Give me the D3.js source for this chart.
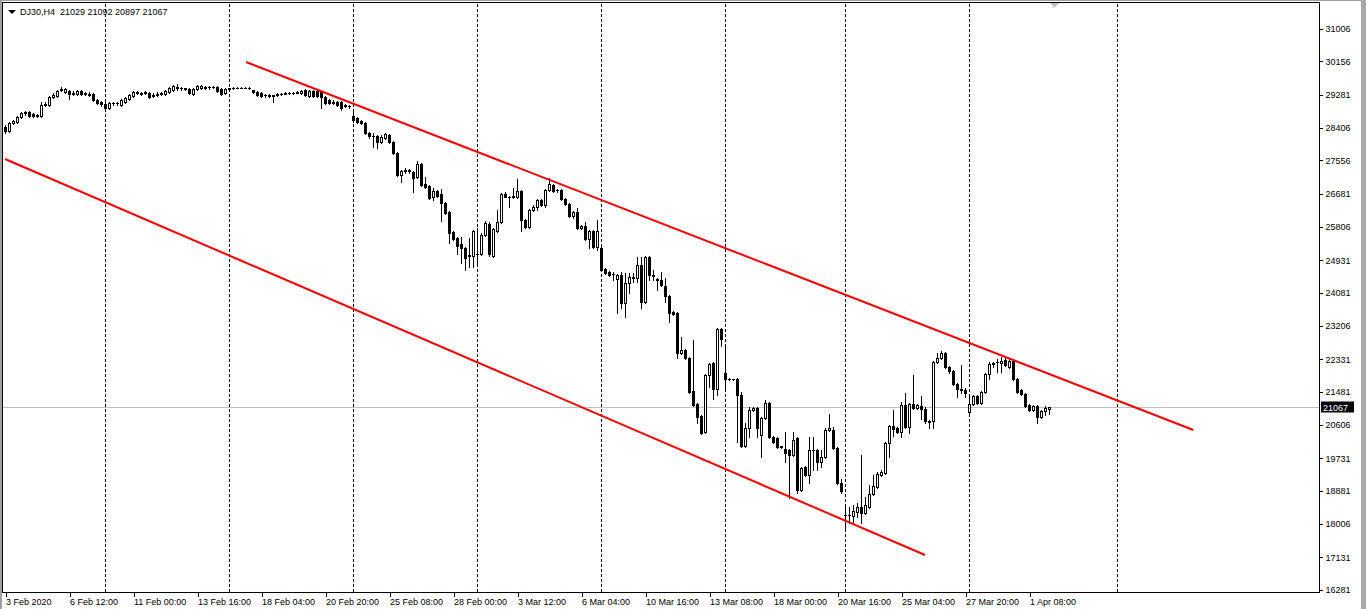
<!DOCTYPE html>
<html><head><meta charset="utf-8">
<script src="https://cdnjs.cloudflare.com/ajax/libs/d3/7.8.5/d3.min.js"></script>
<style>html,body{margin:0;padding:0;background:#fff;overflow:hidden} svg{display:block}</style>
</head><body><svg id="c" width="1366" height="609"></svg>
<script>
const symbol = "DJ30,H4";
const open = [28432,28327,28538,28564,28695,28800,28826,28761,28748,28721,29010,29010,29221,29247,29404,29352,29378,29325,29299,29378,29312,29299,29299,29141,29089,29036,28931,29050,29063,29010,29089,29168,29247,29352,29325,29325,29325,29247,29273,29299,29299,29352,29404,29483,29457,29444,29430,29299,29430,29457,29483,29470,29483,29483,29430,29325,29430,29444,29457,29455,29458,29460,29391,29352,29325,29273,29260,29260,29273,29299,29312,29325,29320,29338,29325,29404,29247,29378,29378,29352,29221,29141,29063,29089,29089,29010,28989,28721,28669,28590,28538,28275,28196,28196,28039,28143,28222,28039,27750,27172,27277,27303,27251,27120,27461,26936,26883,26594,26752,26673,26437,26200,25675,25518,25360,25255,25045,25045,25097,25097,25596,25885,25045,25701,25938,26673,26594,26607,26594,26752,25990,25807,26253,26332,26515,26384,26778,26909,26778,26778,26542,26411,26095,26200,25780,25833,25491,25701,25281,25255,24704,24625,24572,24441,24546,23811,24336,24467,24467,24809,23837,25019,24533,24441,24415,24257,23994,23574,23548,22498,22577,22366,21500,21158,20843,20423,21920,22235,21552,23128,21973,21815,21802,21815,21395,20056,20528,21001,21053,20344,20791,21185,20292,20266,20042,19977,19950,19819,20266,18900,19504,19294,19950,19950,19635,19767,20476,20476,20003,19084,18244,18230,18217,18322,18454,18296,18454,18795,18979,19294,19346,20134,20581,20528,20423,21132,20554,21158,21053,21106,21027,20712,20712,22261,22366,22498,22130,22025,21684,21526,21526,20948,21158,21368,21185,21474,21946,22209,22248,22235,22314,22130,22288,21815,21526,21421,21132,21001,21106,20817,20975,21029];
const high = [28485,28564,28616,28721,28826,28853,28853,28787,28774,29089,29089,29247,29325,29404,29483,29457,29404,29378,29404,29404,29352,29352,29325,29168,29115,29168,29089,29089,29089,29168,29221,29299,29378,29378,29352,29378,29352,29325,29352,29352,29404,29483,29535,29562,29483,29457,29457,29457,29535,29535,29509,29509,29509,29509,29457,29457,29457,29483,29470,29470,29472,29475,29404,29378,29352,29299,29299,29273,29325,29325,29352,29352,29352,29378,29404,29430,29404,29404,29404,29378,29247,29168,29141,29115,29115,29036,29010,28826,28695,28616,28564,28301,28275,28222,28222,28275,28249,28065,27776,27303,27356,27330,27277,27540,27487,27120,26909,26831,26778,26804,26463,26227,25701,25544,25544,25281,25518,25728,25780,25649,25964,25938,25780,26253,26699,26726,26620,26831,27067,26778,26017,26279,26384,26542,26542,26804,27093,26936,26804,26804,26568,26437,26227,26305,25859,25938,25728,25728,25990,25281,24730,24651,24625,24572,24625,24598,24598,24598,25019,25019,25045,25045,24677,24467,24625,24467,24021,23601,23574,22918,22603,22393,22839,21185,20869,21946,22235,22261,23154,23154,22708,21828,21815,21841,21474,20660,21079,21079,21079,20817,21263,21211,20318,20292,20056,20423,19977,20423,20292,19504,19530,20292,20292,19977,19950,20528,20896,20554,20029,19189,18506,18454,18506,18559,19819,18716,19031,19294,19373,19425,20161,20607,21001,20554,21211,21447,21185,21920,21158,21368,21080,20738,22288,22498,22550,22524,22156,22051,21710,22183,21579,21395,21395,21395,21500,21973,22261,22261,22340,22393,22419,22366,22314,21841,21552,21447,21158,21132,21132,21001,21106,21092];
const low = [28275,28301,28511,28538,28669,28748,28695,28695,28695,28695,28984,28984,29194,29221,29378,29325,29168,29273,29273,29273,29273,29247,29115,29036,28984,28879,28905,29010,29010,28984,29063,29141,29221,29299,29273,29299,29194,29221,29247,29273,29273,29325,29378,29404,29404,29404,29299,29273,29404,29430,29430,29430,29457,29352,29273,29299,29404,29430,29444,29444,29445,29440,29325,29247,29221,29221,29221,29089,29247,29273,29299,29299,29299,29325,29299,29247,29221,29221,29221,28931,29036,29036,29036,28984,28879,28957,28931,28564,28538,28511,28249,28143,27907,27881,28012,28117,28012,27723,27146,26988,27224,27224,26726,27093,26883,26831,26542,26515,26594,25964,26148,25386,25465,25097,24861,24677,24756,24756,24809,25071,25570,25045,25019,25675,25911,26590,26332,26568,26568,25701,25780,25780,26227,26253,26358,26332,26752,26726,26726,26515,26384,26069,26043,25754,25754,25465,25255,25255,25203,24651,24572,24520,24415,23548,23679,23443,24073,24362,24362,23679,23811,24415,24415,24152,24257,23837,23312,23496,22366,22471,22340,21447,21106,20660,20371,20397,21605,21290,21395,22681,21552,21789,21789,20161,20029,20029,20292,20975,20292,19767,20764,20266,20134,20003,20003,19635,18690,19793,18821,18874,19268,19084,19425,19425,19504,19740,20449,19977,19058,18821,17902,18033,18060,18191,18033,18270,18428,18769,18953,19268,19320,19767,20318,20397,20292,20528,20397,21027,21027,20765,20660,20528,20528,22235,22340,22104,21973,21657,21342,21447,21342,20922,21132,21158,21158,21447,21815,22130,21999,21999,22156,22104,21789,21447,21395,21080,20975,20975,20660,20791,20869,20897];
const close = [28327,28538,28590,28695,28800,28826,28721,28734,28734,29010,29036,29221,29273,29378,29430,29430,29299,29299,29378,29299,29325,29273,29141,29063,29036,28931,29063,29063,29050,29141,29194,29273,29352,29325,29312,29352,29221,29273,29299,29325,29378,29457,29509,29457,29444,29430,29325,29430,29509,29509,29457,29483,29470,29378,29299,29430,29444,29457,29452,29458,29460,29462,29352,29273,29247,29260,29255,29247,29299,29295,29325,29320,29328,29352,29378,29273,29378,29247,29247,29221,29063,29063,29089,29010,28931,28984,28984,28616,28564,28538,28275,28196,28183,28039,28170,28249,28039,27750,27172,27277,27303,27277,27093,27461,26909,26857,26568,26752,26620,26437,26174,25649,25491,25307,25255,24992,25071,25701,25084,25596,25911,25097,25754,25938,26673,26600,26607,26620,26752,25990,25807,26253,26332,26515,26384,26778,26936,26752,26765,26542,26411,26095,26200,25780,25820,25491,25701,25281,25701,24677,24598,24546,24559,24546,23811,24336,24494,24494,24809,23837,25019,24546,24507,24415,24284,23994,23548,23522,22498,22577,22366,21474,21132,20817,20397,21920,22209,21552,23128,22866,21815,21802,21815,21395,20056,20528,21001,21053,20528,20791,21185,20292,20161,20029,20029,19872,19819,20213,18900,19478,19294,19950,19937,19635,19767,20476,20515,20003,19084,18874,18230,18244,18349,18454,18296,18506,18795,19005,19320,19373,20134,20581,20502,20423,21132,20554,21158,21053,21132,21027,20712,20686,22261,22366,22498,22130,22025,21684,21552,21539,21447,21158,21368,21185,21474,21946,22209,22222,22261,22274,22183,22288,21815,21474,21421,21106,21001,21106,20817,20975,21053,21067];

const yTicks = [31006,30156,29281,28406,27556,26681,25806,24931,24081,23206,22331,21481,20606,19731,18881,18006,17131,16281];
const xTickBars = [0,16,32,48,64,80,96,112,128,144,160,176,192,208,224,240,256];
const xTickLabels = ["3 Feb 2020","6 Feb 12:00","11 Feb 00:00","13 Feb 16:00","18 Feb 04:00","20 Feb 20:00","25 Feb 08:00","28 Feb 00:00","3 Mar 12:00","6 Mar 04:00","10 Mar 16:00","13 Mar 08:00","18 Mar 00:00","20 Mar 16:00","25 Mar 04:00","27 Mar 20:00","1 Apr 08:00"];
const weekSeparatorBars = [25,56,87,118,149,180,210,241,278];
const upperChannel = [[60.25,30139],[297.1,20475]];
const lowerChannel = [[0,27592],[230,17192]];

const FONT = "'Liberation Sans', Arial, sans-serif";
const svg = d3.select("#c");
const L = 2.5, T = 2.5, R = 1319.5, B = 592.5;

const x = d3.scaleLinear().domain([0, 328.5]).range([5, 1319]);   // 4 px per bar
const y = d3.scaleLinear().domain([16281, 31006]).range([589.7, 29]);

// window chrome
svg.append("rect").attr("x",0).attr("y",0).attr("width",1366).attr("height",609).attr("fill","#fff");
svg.append("rect").attr("x",0).attr("y",0).attr("width",2).attr("height",609).attr("fill","#a0a0a0");
svg.append("rect").attr("x",0).attr("y",0).attr("width",1361).attr("height",1).attr("fill","#a0a0a0");
svg.append("rect").attr("x",1361).attr("y",0).attr("width",5).attr("height",609).attr("fill","#a9a9a9");

// week separators
svg.append("g").selectAll("line").data(weekSeparatorBars).join("line")
  .attr("x1", d => Math.round(x(d)) + 0.5).attr("x2", d => Math.round(x(d)) + 0.5)
  .attr("y1", T + 1).attr("y2", B)
  .attr("stroke", "#000").attr("stroke-width", 1).attr("stroke-dasharray", "3,2")
  .attr("shape-rendering", "crispEdges");

// current price line
const last = close.length - 1;
const yLast = Math.round(y(close[last])) + 0.5;
svg.append("line").attr("x1", L).attr("x2", R).attr("y1", yLast).attr("y2", yLast)
  .attr("stroke", "#c0c0c0").attr("stroke-width", 1).attr("shape-rendering", "crispEdges");

// candles
const bars = d3.range(close.length);
const cg = svg.append("g").attr("shape-rendering", "crispEdges");
bars.forEach(i => {
  const cx = Math.round(x(i));
  const yh = Math.round(y(high[i])), yl = Math.round(y(low[i]));
  const yo = Math.round(y(open[i])), yc = Math.round(y(close[i]));
  cg.append("rect").attr("x", cx).attr("y", yh).attr("width", 1).attr("height", Math.max(1, yl - yh + 1)).attr("fill", "#000");
  const top = Math.min(yo, yc), bot = Math.max(yo, yc);
  if (close[i] < open[i] || bot - top < 2) {
    cg.append("rect").attr("x", cx - 1).attr("y", top).attr("width", 3).attr("height", Math.max(1, bot - top + 1)).attr("fill", "#000");
  } else {
    cg.append("rect").attr("x", cx - 0.5).attr("y", top + 0.5).attr("width", 2).attr("height", bot - top)
      .attr("fill", "#fff").attr("stroke", "#000").attr("stroke-width", 1);
  }
});

// channel lines
const line = d3.line().x(d => x(d[0])).y(d => y(d[1]));
[upperChannel, lowerChannel].forEach(seg => {
  svg.append("path").attr("d", line(seg)).attr("fill", "none").attr("stroke", "#ff0000").attr("stroke-width", 2);
});

// frame
svg.append("rect").attr("x", L).attr("y", T).attr("width", R - L).attr("height", B - T)
  .attr("fill", "none").attr("stroke", "#000").attr("stroke-width", 1).attr("shape-rendering", "crispEdges");

// right axis
const ya = d3.axisRight(y).tickValues(yTicks).tickSize(3).tickPadding(3).tickFormat(d3.format("d"));
const yg = svg.append("g").attr("transform", `translate(${R},0)`).call(ya);
yg.select(".domain").remove();
yg.selectAll("text").attr("font-family", FONT).attr("font-size", 9).attr("fill", "#000");
yg.selectAll("line").attr("stroke", "#000").attr("shape-rendering", "crispEdges");

// bottom axis
const xa = d3.axisBottom(x).tickValues(xTickBars).tickSize(4).tickPadding(2).tickFormat((d, i) => xTickLabels[i]);
const xg = svg.append("g").attr("transform", `translate(0.5,${B})`).call(xa);
xg.select(".domain").remove();
xg.selectAll("text").attr("font-family", FONT).attr("font-size", 9).attr("fill", "#000")
  .attr("text-anchor", "start").attr("dx", 0);
xg.selectAll("line").attr("stroke", "#000").attr("shape-rendering", "crispEdges");

// current price label
svg.append("rect").attr("x", 1321).attr("y", yLast - 6).attr("width", 33).attr("height", 11).attr("fill", "#000");
svg.append("text").attr("x", 1323).attr("y", yLast + 3).attr("font-family", FONT).attr("font-size", 9)
  .attr("fill", "#fff").text(close[last]);

// header
svg.append("path").attr("d", "M8,10 L16,10 L12,14 Z").attr("fill", "#000");
svg.append("text").attr("x", 20).attr("y", 15).attr("font-family", FONT).attr("font-size", 9).attr("fill", "#000")
  .attr("xml:space", "preserve").style("white-space", "pre")
  .text(`${symbol}  ${open[last]} ${high[last]} ${low[last]} ${close[last]}`);

// chart shift marker
svg.append("path").attr("d", "M1050,3 L1059,3 L1054.5,8 Z").attr("fill", "#c0c0c0");
</script></body></html>
